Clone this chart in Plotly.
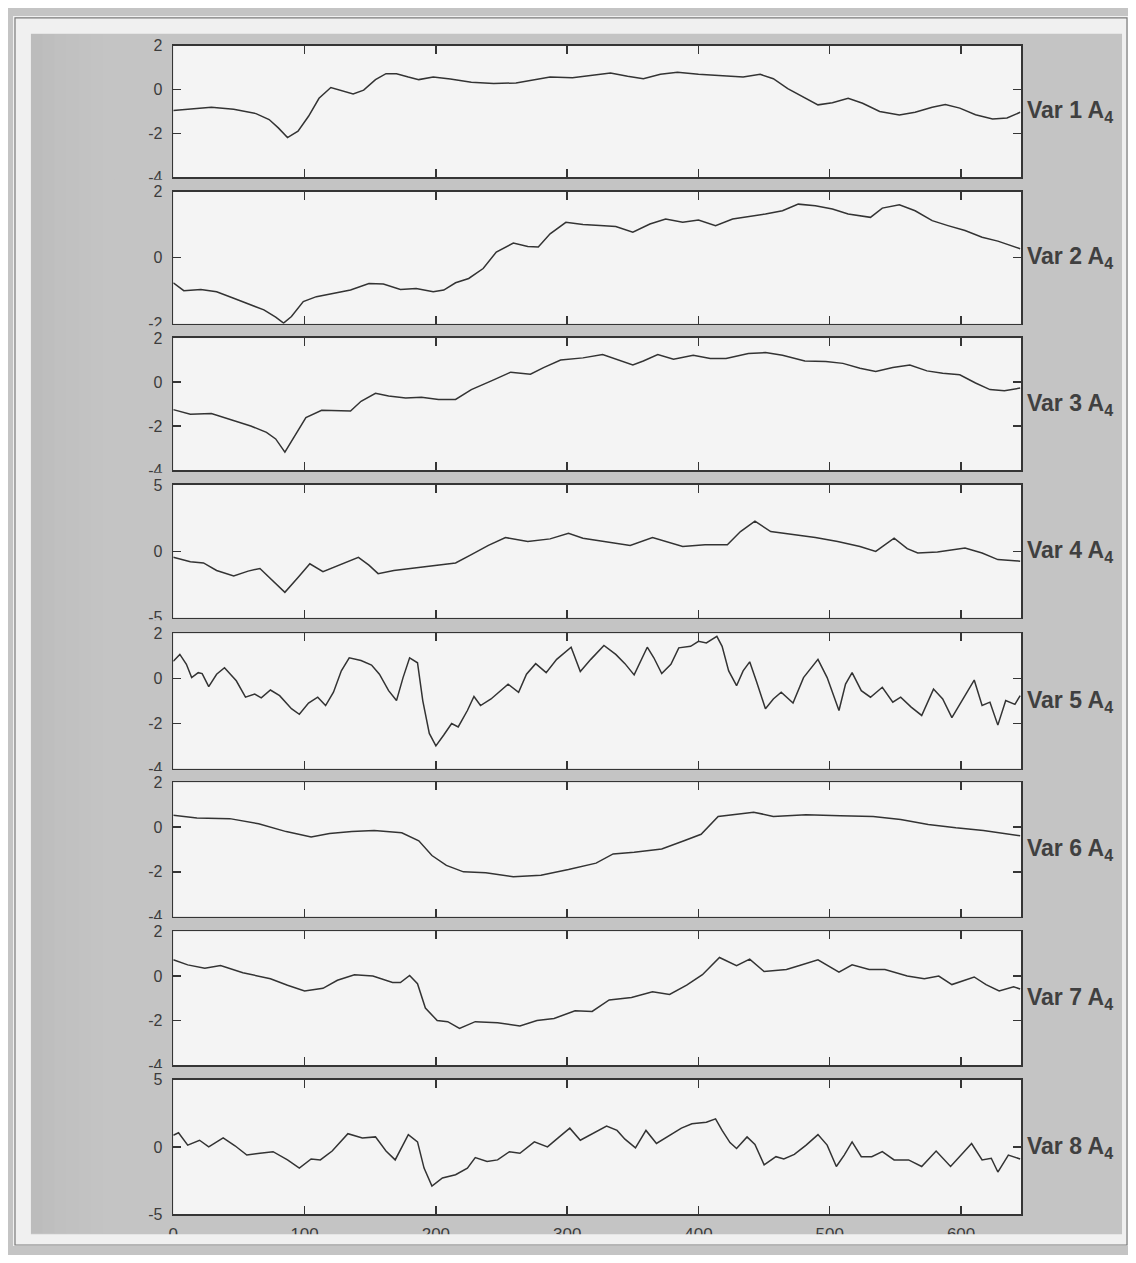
import plotly.graph_objects as go

# page is 1136x1263; the default 8px body margin surrounds the figure
PAGE_W, PAGE_H = 1136, 1263
OFF = 8
W, H = PAGE_W - 2 * OFF, PAGE_H - 2 * OFF

# ---------------- data ----------------
x1 = [0,29,46,63,73,80,87,95,103,111,120,128,137,145,154,162,170,179,187,198,211,227,244,261,274,287,304,320,333,346,358,371,384,400,417,434,447,457,468,481,491,502,514,525,538,553,565,578,588,599,611,624,635,645]
v1 = [-0.96,-0.81,-0.9,-1.1,-1.37,-1.75,-2.19,-1.9,-1.22,-0.4,0.09,-0.06,-0.2,-0.03,0.45,0.72,0.72,0.57,0.45,0.57,0.48,0.33,0.27,0.3,0.45,0.57,0.54,0.64,0.75,0.6,0.49,0.69,0.78,0.69,0.63,0.57,0.69,0.49,0.04,-0.36,-0.7,-0.6,-0.4,-0.63,-1.0,-1.16,-1.04,-0.81,-0.69,-0.85,-1.15,-1.34,-1.3,-1.04]

x2 = [0,8,21,33,46,59,69,78,84,90,99,109,122,135,149,160,173,185,198,206,215,225,236,246,259,270,278,287,299,312,325,337,350,363,375,388,400,413,426,438,451,464,476,489,502,514,531,540,553,565,578,590,603,616,628,645]
v2 = [-0.76,-1.0,-0.96,-1.03,-1.23,-1.43,-1.58,-1.8,-1.98,-1.78,-1.33,-1.18,-1.08,-0.98,-0.78,-0.8,-0.96,-0.93,-1.03,-0.98,-0.76,-0.63,-0.33,0.17,0.44,0.34,0.32,0.72,1.07,1.0,0.97,0.94,0.77,1.02,1.17,1.07,1.14,0.97,1.17,1.24,1.32,1.42,1.62,1.57,1.47,1.32,1.22,1.5,1.6,1.42,1.12,0.97,0.82,0.62,0.5,0.27]

x3 = [0,13,29,46,59,71,78,85,92,101,113,126,135,143,154,164,177,189,202,215,227,244,257,272,282,295,312,327,337,350,358,369,381,396,409,421,438,451,464,481,497,510,523,535,548,561,574,586,599,611,622,633,645]
v3 = [-1.25,-1.46,-1.43,-1.73,-1.99,-2.28,-2.58,-3.18,-2.51,-1.61,-1.28,-1.28,-1.31,-0.87,-0.51,-0.63,-0.72,-0.69,-0.79,-0.79,-0.34,0.1,0.45,0.36,0.66,1.0,1.1,1.25,1.04,0.78,0.96,1.25,1.04,1.22,1.07,1.07,1.3,1.34,1.22,0.96,0.93,0.85,0.63,0.48,0.66,0.78,0.51,0.4,0.33,-0.04,-0.34,-0.39,-0.27]

x4 = [0,13,23,33,46,57,66,76,85,95,104,114,126,141,149,156,168,185,202,215,227,240,253,270,287,301,312,329,348,365,375,388,405,422,432,443,455,472,489,506,523,535,549,559,567,582,603,616,628,645]
v4 = [-0.45,-0.79,-0.87,-1.44,-1.86,-1.49,-1.29,-2.23,-3.09,-1.98,-0.94,-1.53,-1.04,-0.45,-1.04,-1.68,-1.44,-1.24,-1.04,-0.87,-0.25,0.45,1.04,0.74,0.94,1.36,0.99,0.74,0.45,1.04,0.74,0.37,0.5,0.5,1.49,2.28,1.49,1.29,1.04,0.74,0.37,0.0,0.99,0.2,-0.12,-0.05,0.25,-0.12,-0.62,-0.74]

x5 = [0,5,10,14,19,22,27,33,39,48,55,62,67,74,81,90,96,103,110,116,122,128,134,143,151,157,164,170,175,180,186,190,195,200,206,212,217,224,229,234,242,248,255,263,269,276,284,292,303,310,318,328,337,344,351,361,366,372,379,385,394,400,406,414,418,423,429,434,439,444,451,457,463,472,480,491,498,507,512,517,524,531,540,548,554,562,570,579,586,593,600,610,616,622,628,634,641,645]
v5 = [0.77,1.07,0.63,0.04,0.26,0.22,-0.36,0.19,0.48,-0.1,-0.83,-0.69,-0.86,-0.51,-0.76,-1.34,-1.59,-1.09,-0.83,-1.2,-0.61,0.34,0.92,0.8,0.6,0.19,-0.54,-0.98,0.04,0.92,0.7,-0.98,-2.44,-2.99,-2.51,-2.0,-2.15,-1.42,-0.8,-1.2,-0.91,-0.61,-0.25,-0.61,0.19,0.66,0.26,0.85,1.39,0.31,0.85,1.47,1.07,0.66,0.16,1.39,0.92,0.22,0.63,1.36,1.43,1.65,1.58,1.87,1.43,0.34,-0.32,0.34,0.74,-0.1,-1.34,-0.91,-0.61,-1.09,0.04,0.85,0.04,-1.42,-0.25,0.26,-0.54,-0.83,-0.39,-1.05,-0.83,-1.27,-1.64,-0.47,-0.91,-1.74,-1.05,-0.07,-1.2,-1.05,-2.07,-0.98,-1.15,-0.76]

x6 = [0,18,43,65,86,105,119,136,153,174,187,197,208,221,238,259,280,301,322,335,351,372,389,402,415,427,442,457,482,508,533,554,575,596,617,645]
v6 = [0.53,0.41,0.38,0.15,-0.2,-0.44,-0.29,-0.2,-0.15,-0.25,-0.61,-1.27,-1.71,-2.0,-2.04,-2.22,-2.15,-1.9,-1.61,-1.2,-1.12,-0.98,-0.61,-0.32,0.48,0.55,0.67,0.48,0.55,0.51,0.47,0.34,0.12,-0.03,-0.15,-0.39]

x7 = [0,11,24,36,53,74,87,100,114,125,138,152,167,173,180,186,192,201,209,218,230,247,264,277,290,306,319,332,349,365,378,391,403,416,429,439,450,467,477,491,507,517,530,542,559,572,583,593,610,619,629,640,645]
v7 = [0.73,0.5,0.35,0.47,0.15,-0.12,-0.41,-0.67,-0.55,-0.19,0.06,0.0,-0.29,-0.29,0.03,-0.34,-1.43,-1.99,-2.04,-2.34,-2.04,-2.09,-2.23,-1.99,-1.9,-1.55,-1.58,-1.07,-0.96,-0.7,-0.82,-0.41,0.06,0.83,0.47,0.76,0.2,0.29,0.47,0.73,0.18,0.5,0.29,0.29,0.0,-0.12,0.0,-0.38,-0.04,-0.38,-0.67,-0.48,-0.58]

x8 = [0,4,11,20,27,38,47,56,66,76,87,96,105,112,121,133,144,154,162,169,179,186,191,197,205,215,224,230,239,247,256,264,275,285,294,302,310,319,330,338,344,352,360,368,376,387,395,406,413,418,424,429,437,443,450,459,465,473,482,491,498,505,511,517,524,532,540,549,560,570,581,592,600,608,616,623,628,636,645]
v8 = [0.88,1.07,0.15,0.51,0.02,0.68,0.1,-0.59,-0.46,-0.34,-0.95,-1.56,-0.88,-0.95,-0.29,1.0,0.68,0.76,-0.29,-0.95,0.93,0.39,-1.56,-2.9,-2.29,-2.05,-1.56,-0.78,-1.07,-0.95,-0.34,-0.46,0.39,0.02,0.76,1.41,0.51,1.0,1.56,1.24,0.59,-0.05,1.24,0.27,0.76,1.41,1.73,1.85,2.1,1.24,0.34,-0.1,0.76,0.2,-1.32,-0.71,-0.88,-0.54,0.15,0.93,0.15,-1.44,-0.59,0.39,-0.71,-0.71,-0.34,-0.95,-0.95,-1.44,-0.29,-1.44,-0.59,0.27,-0.95,-0.83,-1.85,-0.59,-0.88]

series_labels = ["Var 1 A<sub>4</sub>", "Var 2 A<sub>4</sub>", "Var 3 A<sub>4</sub>", "Var 4 A<sub>4</sub>",
                 "Var 5 A<sub>4</sub>", "Var 6 A<sub>4</sub>", "Var 7 A<sub>4</sub>", "Var 8 A<sub>4</sub>"]
y_ranges = [[-4, 2], [-2, 2], [-4, 2], [-5, 5], [-4, 2], [-4, 2], [-4, 2], [-5, 5]]
y_tickvals = [[-4, -2, 0, 2], [-2, 0, 2], [-4, -2, 0, 2], [-5, 0, 5],
              [-4, -2, 0, 2], [-4, -2, 0, 2], [-4, -2, 0, 2], [-5, 0, 5]]
y_ticktext = [[str(v) for v in tv] for tv in y_tickvals]
x_tickvals = [0, 100, 200, 300, 400, 500, 600]
x_ticktext = ["0", "100", "200", "300", "400", "500", "600"]
x_range = [0, 646]

xs = [x1, x2, x3, x4, x5, x6, x7, x8]
vs = [v1, v2, v3, v4, v5, v6, v7, v8]

# ---------------- layout geometry (page pixels) ----------------
PX_L, PX_R = 169, 1021
panels_px = [(38, 171.5), (186, 320), (334.5, 468.5), (483.5, 618),
             (634, 771), (785, 921), (936, 1072), (1086.5, 1223)]

def px_x(p):
    return (p - OFF) / W

def px_y(p):
    return 1 - (p - OFF) / H

AX = "#353535"
TXT = "#3c3c3c"
FONT = "Liberation Sans, Arial, sans-serif"
GRAY = "#c4c4c4"
LIGHT = "#f0f0f0"

fig = go.Figure()
layout = dict(
    width=W, height=H, autosize=False,
    margin=dict(l=0, r=0, t=0, b=0),
    paper_bgcolor=GRAY,
    plot_bgcolor="#f4f4f4",
    showlegend=False,
    font=dict(family=FONT, size=16, color=TXT),
)

annotations = []
shapes = []
for i in range(8):
    n = i + 1
    sfx = "" if n == 1 else str(n)
    top, bot = panels_px[i]
    fig.add_trace(go.Scatter(
        x=xs[i], y=vs[i], mode="lines",
        line=dict(color="#333333", width=1.5),
        xaxis="x" + sfx, yaxis="y" + sfx, hoverinfo="skip",
    ))
    last = (i == 7)
    layout["xaxis" + sfx] = dict(
        domain=[px_x(PX_L), px_x(PX_R)], anchor="y" + sfx,
        range=x_range, tickmode="array", tickvals=x_tickvals, ticktext=x_ticktext,
        showticklabels=last, ticks="inside", ticklen=8, tickwidth=1.4, tickcolor=AX,
        showline=True, linecolor=AX, linewidth=1.6, mirror="ticks",
        showgrid=False, zeroline=False, ticklabelstandoff=4,
        tickfont=dict(family=FONT, size=17, color=TXT),
    )
    layout["yaxis" + sfx] = dict(
        domain=[px_y(bot), px_y(top)], anchor="x" + sfx,
        range=y_ranges[i], tickmode="array", tickvals=y_tickvals[i], ticktext=y_ticktext[i],
        ticks="inside", ticklen=8, tickwidth=1.4, tickcolor=AX,
        showline=True, linecolor=AX, linewidth=1.6, mirror="ticks",
        showgrid=False, zeroline=False, ticklabelstandoff=6,
        tickfont=dict(family=FONT, size=16, color=TXT),
    )
    annotations.append(dict(
        text="<b>" + series_labels[i] + "</b>", xref="paper", yref="y" + sfx + " domain",
        x=px_x(1025), y=0.5, xanchor="left", yanchor="middle", showarrow=False,
        font=dict(family=FONT, size=23, color="#404040"),
    ))
    # the lowest tick label of the upper panels is partly hidden by the gap
    if i < 7:
        shapes.append(dict(type="rect", xref="paper", yref="paper", layer="above",
                           x0=px_x(110), x1=px_x(PX_L - 2), y0=px_y(bot + 2.5), y1=px_y(panels_px[i + 1][0] - 7),
                           fillcolor=GRAY, line=dict(width=0)))

# left side: soft darker shading towards the outer edge
left_shades = ["#bcbcbc", "#bebebe", "#c0c0c0", "#c1c1c1", "#c2c2c2", "#c3c3c3"]
for k, c in enumerate(left_shades):
    shapes.append(dict(type="rect", xref="paper", yref="paper", layer="below",
                       x0=px_x(26 + k * 12), x1=px_x(26 + (k + 1) * 12), y0=px_y(1242), y1=px_y(26),
                       fillcolor=c, line=dict(width=0)))

# outer light frame bands
for (a, b, c, d) in [(OFF, OFF, PAGE_W - OFF, 26), (OFF, 1243, PAGE_W - OFF, PAGE_H - OFF),
                     (OFF, OFF, 26, PAGE_H - OFF), (1122, OFF, PAGE_W - OFF, PAGE_H - OFF)]:
    shapes.append(dict(type="rect", xref="paper", yref="paper", layer="above",
                       x0=px_x(a), x1=px_x(c), y0=px_y(d), y1=px_y(b),
                       fillcolor=LIGHT, line=dict(width=0)))
shapes.append(dict(type="rect", xref="paper", yref="paper", layer="above",
                   x0=px_x(10), x1=px_x(1127), y0=px_y(1254), y1=px_y(10),
                   fillcolor="rgba(0,0,0,0)", line=dict(color="#7a7a7a", width=1.2)))

layout["annotations"] = annotations
layout["shapes"] = shapes
fig.update_layout(**layout)
fig.write_html(
    "out.html",
    config={"displayModeBar": False, "responsive": False, "staticPlot": True},
)
